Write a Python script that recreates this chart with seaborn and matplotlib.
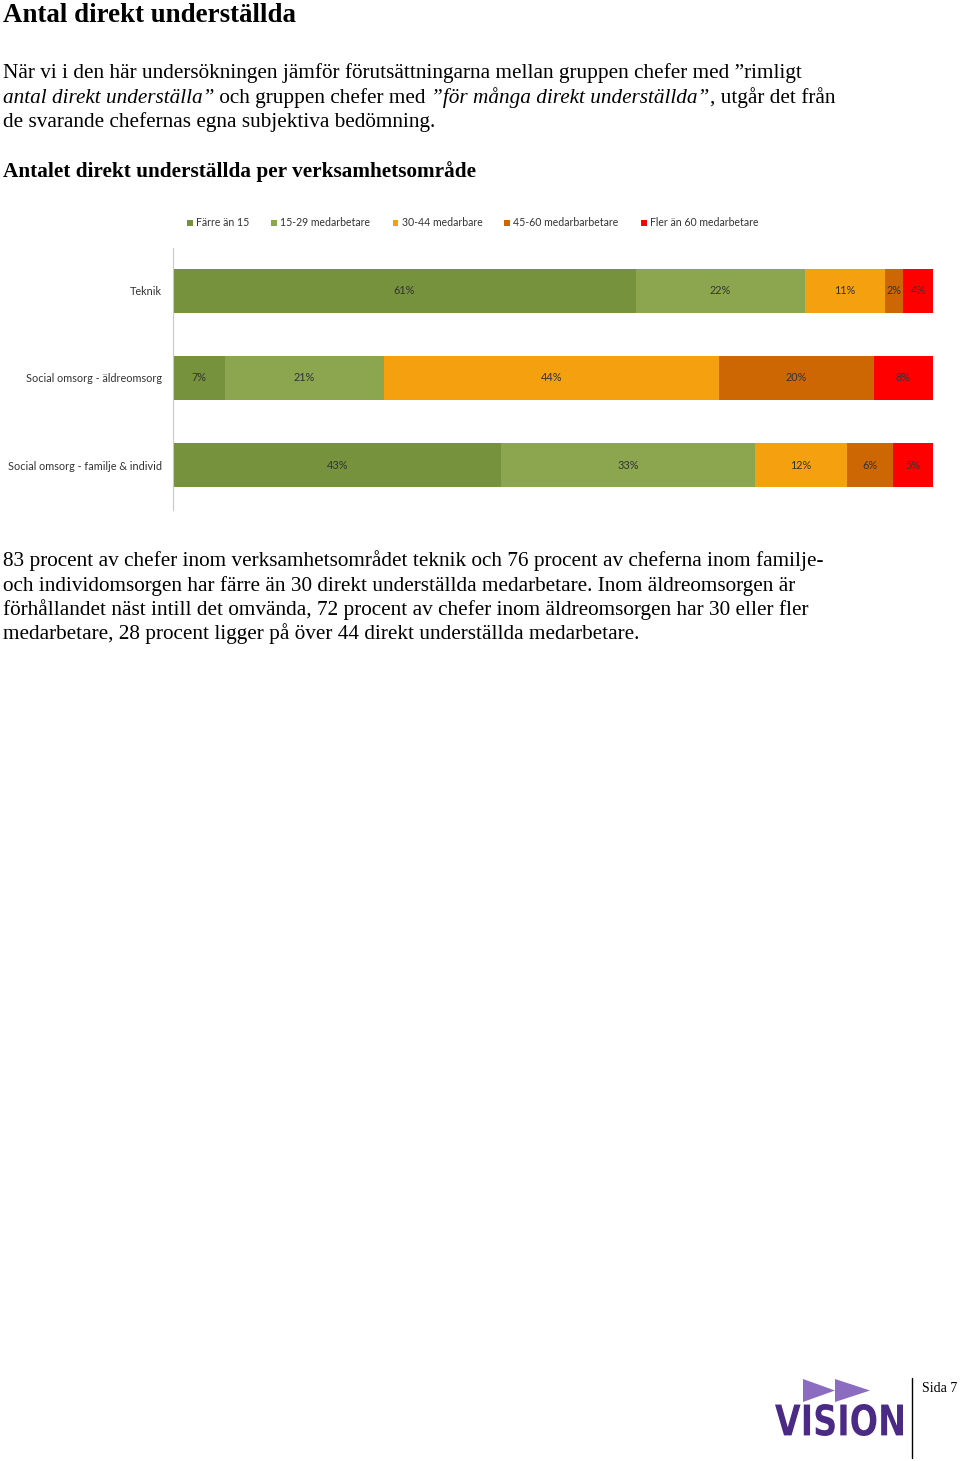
"""
Antal direkt underställda per verksamhetsområde
Stacked horizontal bar chart on a report page
"""

import matplotlib
matplotlib.use("Agg")
import matplotlib.pyplot as plt
import seaborn as sns
import numpy as np
import pandas as pd
from matplotlib.patches import Patch, Polygon, PathPatch
from matplotlib.lines import Line2D
from matplotlib.textpath import TextPath
from matplotlib.font_manager import FontProperties
from matplotlib.transforms import Affine2D

# Data (percent of managers per group)
areas = ["Teknik", "Social omsorg - äldreomsorg", "Social omsorg - familje & individ"]
groups = ["Färre än 15", "15-29 medarbetare", "30-44 medarbare",
          "45-60 medarbarbetare", "Fler än 60 medarbetare"]
farre_an_15 = [60.9, 6.8, 43.2]
medarb_15_29 = [22.2, 20.9, 33.4]
medarb_30_44 = [10.6, 44.2, 12.1]
medarb_45_60 = [2.4, 20.3, 6.0]
fler_an_60 = [3.9, 7.8, 5.3]

colors = ["#76923C", "#8BA64F", "#F5A00E", "#CC6703", "#FF0000"]

W, H = 960, 1461
SERIF = "Liberation Serif"
SANS = "Lato"
CHART_FS = 7.8


def fx(px):
    return px / W


def fy(py):
    return 1 - py / H


sns.set_theme(style="white")
plt.rcParams["font.family"] = [SERIF, "DejaVu Sans"]
plt.rcParams["text.color"] = "black"

fig = plt.figure(figsize=(W / 100, H / 100), dpi=100)
fig.patch.set_facecolor("white")
renderer = fig.canvas.get_renderer()


def text_width(s, size, style="normal", weight="normal"):
    prop = FontProperties(family=SERIF, size=size, style=style, weight=weight)
    w1, _, _ = renderer.get_text_width_height_descent("a" + s + "a", prop, ismath=False)
    w0, _, _ = renderer.get_text_width_height_descent("aa", prop, ismath=False)
    return w1 - w0


def draw_runs(runs, x, y, size=15.3):
    for s, style in runs:
        fig.text(fx(x), fy(y), s, fontsize=size, family=SERIF, style=style,
                 va="baseline", ha="left", color="black")
        x += text_width(s, size, style)


# Heading and intro text
fig.text(fx(3), fy(22), "Antal direkt underställda", fontsize=19.4, family=SERIF,
         weight="bold", va="baseline", color="black")
draw_runs([("När vi i den här undersökningen jämför förutsättningarna mellan gruppen chefer med ”rimligt", "normal")], 3, 78)
draw_runs([("antal direkt underställa”", "italic"), (" och gruppen chefer med ", "normal"),
           ("”för många direkt underställda”", "italic"), (", utgår det från", "normal")], 3, 103)
draw_runs([("de svarande chefernas egna subjektiva bedömning.", "normal")], 3, 127)
fig.text(fx(3), fy(177), "Antalet direkt underställda per verksamhetsområde", fontsize=15.3,
         family=SERIF, weight="bold", va="baseline", color="black")

# Chart
ax = fig.add_axes([fx(173), fy(510), fx(933) - fx(173), fy(248) - fy(510)])
series = [farre_an_15, medarb_15_29, medarb_30_44, medarb_45_60, fler_an_60]
df = pd.DataFrame(np.array(series).T, columns=groups)
df["area"] = areas
cum = df[groups].cumsum(axis=1)

# overlapping cumulative bars, widest first
for k in range(len(groups) - 1, -1, -1):
    sns.barplot(x=cum[groups[k]], y=df["area"], orient="h", color=colors[k],
                saturation=1, width=0.51, edgecolor="none", linewidth=0, ax=ax)

for i in range(len(areas)):
    left = 0
    for g in groups:
        v = df.loc[i, g]
        ax.text(left + v / 2, i, f"{v:.0f}%", ha="center", va="center",
                fontsize=CHART_FS, family=SANS, color="#333333")
        left += v

ax.set_xlim(0, 100)
ax.set_ylim(2.517, -0.494)
ax.set_xlabel("")
ax.set_ylabel("")
ax.set_xticks([])
ax.tick_params(axis="y", length=0, pad=8, labelsize=CHART_FS, labelcolor="#333333")
for lab in ax.get_yticklabels():
    lab.set_fontfamily(SANS)
for side in ["top", "right", "bottom"]:
    ax.spines[side].set_visible(False)
ax.spines["left"].set_color("#C8C8C8")
ax.spines["left"].set_linewidth(0.8)
ax.set_facecolor("white")

handles = [Patch(facecolor=c, edgecolor="none") for c in colors]
fig.legend(handles, groups, loc="center left", bbox_to_anchor=(fx(187), fy(223)),
           ncol=5, frameon=False, handlelength=0.55, handleheight=0.55,
           handletextpad=0.3, columnspacing=2.1, borderaxespad=0, borderpad=0,
           prop=FontProperties(family=SANS, size=7.6), labelcolor="#333333")

# Closing paragraph
para = [
    "83 procent av chefer inom verksamhetsområdet teknik och 76 procent av cheferna inom familje-",
    "och individomsorgen har färre än 30 direkt underställda medarbetare. Inom äldreomsorgen är",
    "förhållandet näst intill det omvända, 72 procent av chefer inom äldreomsorgen har 30 eller fler",
    "medarbetare, 28 procent ligger på över 44 direkt underställda medarbetare.",
]
for j, line in enumerate(para):
    draw_runs([(line, "normal")], 3, 566 + j * 24.5)

# Footer logo
for x0, x1 in [(803, 835), (835, 870)]:
    fig.add_artist(Polygon([(fx(x0), fy(1379)), (fx(x1), fy(1390.5)), (fx(x0), fy(1402))],
                           closed=True, transform=fig.transFigure,
                           facecolor="#8C6CC0", edgecolor="none"))
tp = TextPath((0, 0), "VISION", size=10, prop=FontProperties(family="DejaVu Sans", weight="bold"))
ext = tp.get_extents()
bx0, bx1, by0, by1 = 775, 903, 1404, 1436
sx = (bx1 - bx0) / ext.width
sy = (by1 - by0) / ext.height
tr = (Affine2D().translate(-ext.x0, -ext.y0).scale(sx / W, sy / H)
      .translate(fx(bx0), fy(by1)) + fig.transFigure)
fig.add_artist(PathPatch(tp, transform=tr, facecolor="#4B2A85", edgecolor="none"))
fig.add_artist(Line2D([fx(912), fx(912)], [fy(1378), fy(1458)], transform=fig.transFigure,
                      color="black", linewidth=1))
fig.text(fx(922), fy(1392), "Sida 7", fontsize=10, family=SERIF, va="baseline", color="black")

fig.savefig("out.png", dpi=100, facecolor="white")
